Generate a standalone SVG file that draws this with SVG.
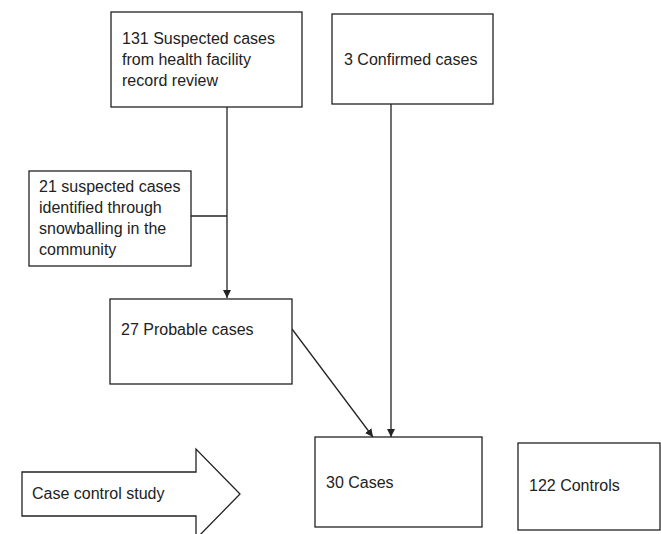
<svg xmlns="http://www.w3.org/2000/svg" width="661" height="534" viewBox="0 0 661 534">
<style>
.box{fill:#fff;stroke:#222;stroke-width:1.3}
.t{font-family:"Liberation Sans",Arial,sans-serif;font-size:16px;fill:#222}
.c{fill:none;stroke:#222;stroke-width:1.3}
</style>
<defs>
<marker id="ah" markerWidth="8" markerHeight="8" refX="8" refY="4" orient="auto" markerUnits="userSpaceOnUse">
<path d="M0,0 L8,4 L0,8 Z" fill="#222"/>
</marker>
</defs>
<rect width="661" height="534" fill="#fff"/>
<g id="connectors">
<line class="c" x1="227" y1="107" x2="227" y2="298" marker-end="url(#ah)"/>
<line class="c" x1="191" y1="216" x2="227" y2="216"/>
<line class="c" x1="391" y1="104" x2="391" y2="437" marker-end="url(#ah)"/>
<line class="c" x1="292" y1="329" x2="373" y2="437" marker-end="url(#ah)"/>
</g>
<g id="suspected131">
<rect class="box" x="111" y="12" width="191" height="95"/>
<text class="t" x="122" y="44">131 Suspected cases</text>
<text class="t" x="122" y="65">from health facility</text>
<text class="t" x="122" y="86">record review</text>
</g>
<g id="confirmed">
<rect class="box" x="332" y="14" width="161" height="90"/>
<text class="t" x="344" y="65">3 Confirmed cases</text>
</g>
<g id="suspected21">
<rect class="box" x="29" y="171" width="162" height="95"/>
<text class="t" x="39" y="192">21 suspected cases</text>
<text class="t" x="39" y="213">identified through</text>
<text class="t" x="39" y="234">snowballing in the</text>
<text class="t" x="39" y="255">community</text>
</g>
<g id="probable">
<rect class="box" x="110" y="299" width="182" height="85"/>
<text class="t" x="121" y="335">27 Probable cases</text>
</g>
<g id="cases">
<rect class="box" x="315" y="437" width="167" height="90"/>
<text class="t" x="326" y="488">30 Cases</text>
</g>
<g id="controls">
<rect class="box" x="518" y="443" width="142" height="87"/>
<text class="t" x="529" y="491">122 Controls</text>
</g>
<g id="study">
<path class="box" d="M22,472 L196,472 L196,449 L240,494 L196,539 L196,516 L22,516 Z"/>
<text class="t" x="32" y="499">Case control study</text>
</g>
</svg>
